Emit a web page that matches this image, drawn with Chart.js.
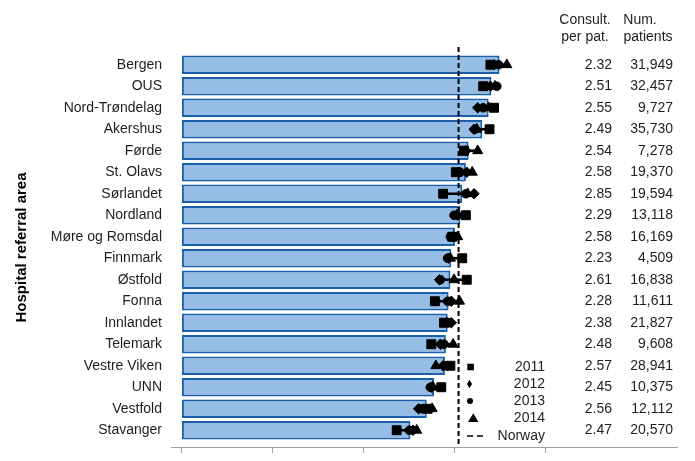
<!DOCTYPE html>
<html><head><meta charset="utf-8">
<script src="https://cdn.jsdelivr.net/npm/chart.js@4.4.0/dist/chart.umd.min.js"></script>
<style>html,body{margin:0;padding:0;background:#fff}#wrap{width:695px;height:461px;position:relative}</style>
</head><body><div id="wrap"><canvas id="c" width="695" height="461"></canvas></div>
<script>
const hospitals = ['Bergen','OUS','Nord-Trøndelag','Akershus','Førde','St. Olavs','Sørlandet','Nordland','Møre og Romsdal','Finnmark','Østfold','Fonna','Innlandet','Telemark','Vestre Viken','UNN','Vestfold','Stavanger'];
const barValues = [3.49,3.40,3.37,3.30,3.15,3.12,3.08,3.06,3.00,2.96,2.95,2.93,2.92,2.90,2.89,2.77,2.69,2.51];
const y2011 = [3.39,3.31,3.43,3.38,3.10,3.01,2.87,3.12,2.97,3.08,3.13,2.78,2.88,2.74,2.95,2.85,2.70,2.36];
const y2012 = [3.43,3.39,3.25,3.21,3.12,3.13,3.21,3.03,2.98,2.93,2.83,2.96,2.96,2.84,2.87,2.74,2.60,2.54];
const y2013 = [3.48,3.46,3.31,3.22,3.11,3.06,3.12,2.99,2.95,2.92,2.84,2.92,2.93,2.88,2.91,2.73,2.64,2.50];
const y2014 = [3.57,3.44,3.37,3.24,3.25,3.19,3.14,3.02,3.03,2.95,2.99,3.05,2.91,2.98,2.79,2.76,2.75,2.58];
const norway = 3.04;
const consultPerPat = ['2.32','2.51','2.55','2.49','2.54','2.58','2.85','2.29','2.58','2.23','2.61','2.28','2.38','2.48','2.57','2.45','2.56','2.47'];
const numPatients = ['31,949','32,457','9,727','35,730','7,278','19,370','19,594','13,118','16,169','4,509','16,838','11,611','21,827','9,608','28,941','10,375','12,112','20,570'];
const xTicks = [0,1,2,3,4];
const legendLabels = ['2011','2012','2013','2014','Norway'];
const tableHeaders = [['Consult.','per pat.'],['Num.','patients']];

const FONT = '"Liberation Sans", Arial, sans-serif';
const TXT = '#1e1e1e';

const rangeData = hospitals.map((_, i) => {
  const v = [y2011[i], y2012[i], y2013[i], y2014[i]];
  return [Math.min(...v), Math.max(...v)];
});

function markerSet(label, data, style, radius) {
  return {type:'line', label, data, indexAxis:'y', showLine:false, order:0,
    pointStyle: style, pointRadius: radius, pointHoverRadius: radius,
    pointBackgroundColor:'#000', pointBorderColor:'#000', pointBorderWidth:1};
}

const extras = {
  id:'extras',
  afterDatasetDraw(chart, args) {
    if (args.index !== 0) return;
    const ctx = chart.ctx, xs = chart.scales.x;
    const px = xs.getPixelForValue(norway);
    ctx.save();
    ctx.strokeStyle = '#000'; ctx.lineWidth = 2; ctx.setLineDash([5,3]);
    ctx.beginPath(); ctx.moveTo(px, 47); ctx.lineTo(px, 446); ctx.stroke();
    ctx.restore();
  },
  afterDraw(chart) {
    const ctx = chart.ctx, ys = chart.scales.y;
    ctx.save();
    ctx.fillStyle = TXT;
    ctx.font = '14px ' + FONT;
    ctx.textBaseline = 'middle';
    ctx.textAlign = 'center';
    ctx.fillText(tableHeaders[0][0], 585, 20);
    ctx.fillText(tableHeaders[0][1], 585, 37);
    ctx.fillText(tableHeaders[1][0], 640, 20);
    ctx.fillText(tableHeaders[1][1], 648, 37);
    ctx.textAlign = 'right';
    hospitals.forEach((h, i) => {
      const y = ys.getPixelForValue(i);
      ctx.fillText(consultPerPat[i], 612, y);
      ctx.fillText(numPatients[i], 673, y);
    });
    // legend
    const ly = [367, 384, 401, 418, 436];
    legendLabels.forEach((t, i) => ctx.fillText(t, 545, ly[i]));
    ctx.fillStyle = '#000';
    ctx.fillRect(467.3, ly[0]-3.3, 6.6, 6.6);
    ctx.beginPath(); ctx.moveTo(469.5, ly[1]-4.2); ctx.lineTo(472, ly[1]); ctx.lineTo(469.5, ly[1]+4.2); ctx.lineTo(467, ly[1]); ctx.closePath(); ctx.fill();
    ctx.beginPath(); ctx.arc(470, ly[2], 3, 0, Math.PI*2); ctx.fill();
    ctx.beginPath(); ctx.moveTo(473.3, ly[3]-4.7); ctx.lineTo(478.5, ly[3]+4); ctx.lineTo(468, ly[3]+4); ctx.closePath(); ctx.fill();
    ctx.strokeStyle = '#000'; ctx.lineWidth = 1.5; ctx.setLineDash([6,4]);
    ctx.beginPath(); ctx.moveTo(467, ly[4]); ctx.lineTo(484, ly[4]); ctx.stroke();
    ctx.restore();
  }
};

new Chart(document.getElementById('c'), {
  type:'bar',
  data:{
    labels: hospitals,
    datasets:[
      {label:'Rate', data: barValues, order:3, grouped:false,
       backgroundColor:'#95bde6', borderColor:'#1b5fab', borderWidth:2, borderSkipped:false,
       categoryPercentage:1, barPercentage:0.86},
      {label:'Range', data: rangeData, order:2, grouped:false,
       backgroundColor:'#000', borderWidth:0, barThickness:2},
      markerSet('2011', y2011, 'rect', 6.3),
      markerSet('2012', y2012, 'rectRot', 5.2),
      markerSet('2013', y2013, 'circle', 4.3),
      markerSet('2014', y2014, 'triangle', 5.8)
    ]
  },
  options:{
    indexAxis:'y',
    responsive:false,
    animation:false,
    events:[],
    layout:{padding:{top:54, right:18, left:0, bottom:0}},
    plugins:{legend:{display:false}, tooltip:{enabled:false}},
    scales:{
      x:{type:'linear', position:'bottom', min:-0.12, max:5.44, weight:0,
         grid:{display:false, drawTicks:false}, border:{display:false},
         ticks:{display:false},
         afterFit(s){ s.height = 6; }},
      x2:{type:'linear', position:'bottom', min:-0.12, max:5.44, weight:1,
         afterBuildTicks(s){ s.ticks = xTicks.map(v => ({value:v})); },
         grid:{display:true, drawOnChartArea:false, drawTicks:true, tickLength:6, color:'#a0a0a0', lineWidth:1},
         border:{display:true, color:'#a0a0a0', width:1},
         ticks:{display:false},
         afterFit(s){ s.height = 14; }},
      y:{type:'category', position:'left', offset:true,
         grid:{display:false, drawTicks:false}, border:{display:false},
         ticks:{color:TXT, padding:9, font:{family:FONT, size:14}, autoSkip:false},
         title:{display:true, text:'Hospital referral area', color:'#000',
                font:{family:FONT, size:15, weight:'bold'}, padding:{top:13, bottom:0}},
         afterFit(s){ s.width = 171; }}
    }
  },
  plugins:[extras]
});
</script></body></html>
